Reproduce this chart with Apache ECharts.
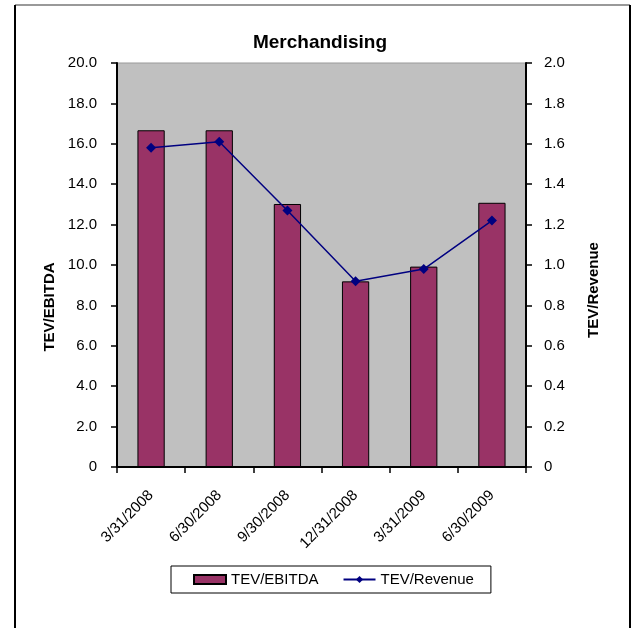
<!DOCTYPE html>
<html>
<head>
<meta charset="utf-8">
<script src="https://cdn.jsdelivr.net/npm/echarts@6/dist/echarts.min.js"></script>
<style>
  html, body { margin: 0; padding: 0; background: #fff; }
  #chart { width: 631px; height: 628px; }
</style>
</head>
<body>
<div id="chart"></div>
<script>
// data
const quarters = ['3/31/2008', '6/30/2008', '9/30/2008', '12/31/2008', '3/31/2009', '6/30/2009'];
const tevEbitda = [16.67, 16.67, 13.02, 9.19, 9.92, 13.08];
const tevRevenue = [1.58, 1.61, 1.27, 0.92, 0.98, 1.22];

const chart = echarts.init(document.getElementById('chart'));
const font = 'Liberation Sans, Arial, sans-serif';

const option = {
  animation: false,
  textStyle: { fontFamily: font },
  title: {
    text: 'Merchandising',
    left: 315,
    top: 28,
    textAlign: 'center',
    textStyle: { fontSize: 19, fontWeight: 'bold', color: '#000', fontFamily: font }
  },
  // outer chart frame
  graphic: [
    { type: 'line', shape: { x1: 15, y1: 5, x2: 630, y2: 5 }, style: { stroke: '#999', lineWidth: 2 } },
    { type: 'line', shape: { x1: 15, y1: 5, x2: 15, y2: 628 }, style: { stroke: '#000', lineWidth: 2 } },
    { type: 'line', shape: { x1: 630, y1: 5, x2: 630, y2: 628 }, style: { stroke: '#000', lineWidth: 2 } }
  ],
  grid: {
    left: 117, right: 105, top: 63, bottom: 161,
    show: true, backgroundColor: '#c0c0c0', borderColor: '#999', borderWidth: 1
  },
  legend: {
    left: 171, top: 566,
    padding: [6, 17, 6, 22],
    itemGap: 24,
    itemWidth: 32, itemHeight: 9,
    borderColor: '#000', borderWidth: 1,
    textStyle: { fontSize: 15, color: '#000', fontFamily: font },
    data: [
      { name: 'TEV/EBITDA', icon: 'rect' },
      { name: 'TEV/Revenue' }
    ]
  },
  xAxis: {
    type: 'category',
    data: quarters,
    axisLine: { lineStyle: { color: '#000', width: 2 } },
    axisTick: { show: true, length: 6, lineStyle: { color: '#000', width: 1.5 } },
    axisLabel: { rotate: 45, margin: 26, fontSize: 15, color: '#000', fontFamily: font }
  },
  yAxis: [
    {
      type: 'value', min: 0, max: 20, interval: 2,
      name: 'TEV/EBITDA', nameLocation: 'middle', nameGap: 58, nameRotate: 90,
      nameTextStyle: { fontSize: 15, fontWeight: 'bold', color: '#000', fontFamily: font, padding: [0, 84, 0, 0] },
      axisLine: { show: true, lineStyle: { color: '#000', width: 2 } },
      axisTick: { show: true, length: 6, lineStyle: { color: '#000', width: 1.5 } },
      splitLine: { show: false },
      axisLabel: {
        margin: 20, fontSize: 15, color: '#000', fontFamily: font,
        formatter: v => v === 0 ? '0' : v.toFixed(1)
      }
    },
    {
      type: 'value', min: 0, max: 2, interval: 0.2,
      name: 'TEV/Revenue', nameLocation: 'middle', nameGap: 60, nameRotate: 90,
      nameTextStyle: { fontSize: 15, fontWeight: 'bold', color: '#000', fontFamily: font, padding: [0, 50, 48, 0] },
      axisLine: { show: true, lineStyle: { color: '#000', width: 2 } },
      axisTick: { show: true, length: 6, lineStyle: { color: '#000', width: 1.5 } },
      splitLine: { show: false },
      axisLabel: {
        margin: 18, fontSize: 15, color: '#000', fontFamily: font,
        formatter: v => v === 0 ? '0' : v.toFixed(1)
      }
    }
  ],
  series: [
    {
      name: 'TEV/EBITDA',
      type: 'bar',
      data: tevEbitda,
      barWidth: '40%',
      itemStyle: { color: '#993366', borderColor: '#000', borderWidth: 1 }
    },
    {
      name: 'TEV/Revenue',
      type: 'line',
      yAxisIndex: 1,
      data: tevRevenue,
      symbol: 'diamond',
      symbolSize: 10,
      lineStyle: { color: '#000080', width: 1.5 },
      itemStyle: { color: '#000080' }
    }
  ]
};

chart.setOption(option);
</script>
</body>
</html>
